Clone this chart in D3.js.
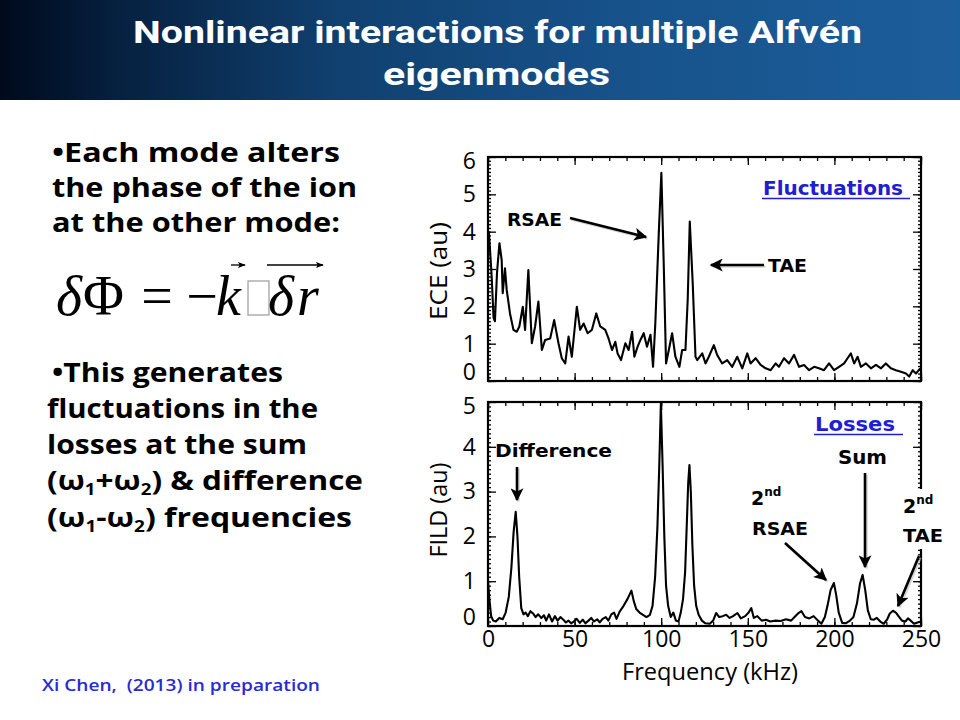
<!DOCTYPE html>
<html><head><meta charset="utf-8">
<script src="https://cdn.jsdelivr.net/npm/d3@7"></script>
<style>body{margin:0;background:#fff;} svg{display:block;}</style>
</head><body>
<svg id="c" width="960" height="720"></svg>
<script>
// ---- Data ----
const xTicks = [0, 50, 100, 150, 200, 250];
const eceTicks = [0, 1, 2, 3, 4, 5, 6];
const fildTicks = [0, 1, 2, 3, 4, 5];

const eceFreq = [0.5,2.0,3.2,4.0,5.2,6.6,7.9,8.5,9.8,10.8,12.7,14.7,16.6,18.1,20.1,21.4,23.3,25.3,27.2,29.1,31.1,33.0,35.9,38.2,40.7,42.6,44.6,46.5,48.4,51.3,53.2,55.2,57.5,60.0,62.5,64.8,67.7,69.6,71.6,73.5,74.8,76.8,79.3,81.2,83.2,84.5,86.4,88.0,89.9,91.8,93.8,95.3,96.6,98.6,100.1,101.5,102.8,104.4,106.3,108.2,110.5,112.1,114.0,115.3,116.5,118.2,119.8,120.8,123.7,125.6,127.5,130.4,132.3,135.2,138.1,141.0,143.9,146.8,149.7,151.6,154.5,157.4,160.3,163.2,166.1,168.0,170.9,173.8,176.7,179.6,182.5,185.4,188.3,191.1,194.0,196.9,199.8,202.7,205.6,207.6,209.5,211.4,213.4,215.3,218.2,221.1,224.0,226.9,229.7,232.6,235.5,238.4,241.3,243.2,245.2,247.1,249.6];
const eceVals = [4.0,2.9,1.7,1.6,2.9,3.69,3.24,2.35,3.02,2.44,1.81,1.37,1.32,1.46,1.99,1.37,2.97,1.01,1.46,2.13,0.83,1.1,1.14,1.63,1.01,0.61,0.47,1.19,0.65,1.99,1.37,1.54,1.28,1.37,1.81,1.46,1.37,1.14,0.83,1.05,0.74,0.56,1.01,0.83,1.32,0.65,0.92,1.1,1.28,0.92,1.24,0.38,1.54,3.96,5.58,3.06,0.47,0.83,1.28,0.65,0.38,0.83,0.83,2.17,4.27,2.62,0.65,0.56,0.74,0.47,0.65,0.96,0.7,0.47,0.56,0.38,0.65,0.34,0.74,0.47,0.61,0.43,0.34,0.29,0.47,0.38,0.61,0.47,0.7,0.38,0.43,0.29,0.38,0.34,0.29,0.47,0.29,0.38,0.47,0.61,0.74,0.47,0.65,0.38,0.47,0.34,0.43,0.34,0.47,0.34,0.29,0.25,0.2,0.12,0.29,0.2,0.34];

const fildFreq = [0,0.8,1.8,3.0,4.5,6.5,8.5,10.2,12.0,13.5,14.8,16.0,17.0,18.0,19.2,20.5,21.7,23.0,24.5,26.0,27.5,29.0,30.8,32.3,33.6,35.2,37.0,38.6,40.2,41.8,43.5,45.0,46.5,48.0,49.5,51.2,53.0,54.7,56.3,58.0,59.6,61.2,63.0,64.5,66.2,68.0,69.5,71.2,72.8,74.2,76.0,78.3,80.5,82.8,84.2,85.6,87.5,89.5,91.5,93.5,95.0,96.5,97.8,98.9,99.8,100.8,101.8,102.8,104.0,105.5,107.0,108.5,110.0,111.3,112.6,113.8,114.8,115.6,116.3,117.1,118.0,119.0,120.2,121.6,123.5,125.5,128.0,130.0,131.7,133.5,135.5,137.5,139.5,141.5,144.0,146.0,148.5,150.5,152.0,153.5,155.5,158.0,160.5,163.0,166.0,169.0,172.0,175.0,177.0,179.0,181.0,183.0,185.5,188.0,190.5,192.5,194.5,196.0,197.8,199.7,201.0,202.5,204.5,206.5,209.0,211.0,213.0,214.8,216.3,217.8,219.3,221.0,222.8,224.5,226.5,228.5,230.5,232.0,233.8,235.5,237.0,239.0,241.0,242.5,244.0,246.0,248.0,250.0];
const fildVals = [1.0,0.6,0.22,0.12,0.1,0.18,0.15,0.3,0.65,1.3,2.1,2.55,2.0,1.1,0.4,0.26,0.3,0.22,0.33,0.28,0.2,0.26,0.18,0.24,0.12,0.26,0.1,0.22,0.12,0.2,0.14,0.08,0.12,0.06,0.1,0.16,0.07,0.14,0.06,0.12,0.18,0.1,0.15,0.08,0.16,0.2,0.12,0.26,0.3,0.16,0.32,0.45,0.6,0.79,0.55,0.38,0.3,0.25,0.2,0.25,0.45,1.1,2.2,3.6,4.96,3.6,2.0,0.9,0.45,0.2,0.3,0.12,0.1,0.3,0.6,1.2,2.3,3.2,3.59,3.0,1.8,0.9,0.45,0.25,0.12,0.06,0.05,0.12,0.29,0.2,0.22,0.25,0.18,0.22,0.29,0.17,0.22,0.3,0.4,0.18,0.22,0.12,0.14,0.1,0.12,0.11,0.15,0.12,0.2,0.28,0.33,0.2,0.17,0.22,0.12,0.05,0.2,0.45,0.8,0.96,0.7,0.3,0.07,0.06,0.12,0.2,0.5,0.95,1.14,0.8,0.35,0.15,0.14,0.18,0.1,0.05,0.15,0.28,0.34,0.3,0.22,0.12,0.1,0.17,0.12,0.05,0.08,0.1];

// ---- Drawing ----
const svg = d3.select("#c");
const defs = svg.append("defs");
const grad = defs.append("linearGradient").attr("id", "tg")
  .attr("x1", "0").attr("x2", "1").attr("y1", "0").attr("y2", "0");
[[0, "#000a1c"], [0.12, "#06203f"], [0.35, "#10406f"], [0.65, "#17528b"], [1, "#1c5e9b"]]
  .forEach(([o, c]) => grad.append("stop").attr("offset", o).attr("stop-color", c));

defs.append("marker").attr("id", "ah").attr("viewBox", "0 0 10 10")
  .attr("refX", 9).attr("refY", 5).attr("markerWidth", 5).attr("markerHeight", 5)
  .attr("orient", "auto-start-reverse")
  .append("path").attr("d", "M0,0 L10,5 L0,10 L2.5,5 Z").attr("fill", "#000");
defs.append("marker").attr("id", "ahs").attr("viewBox", "0 0 10 10")
  .attr("refX", 9).attr("refY", 5).attr("markerWidth", 6).attr("markerHeight", 6)
  .attr("orient", "auto")
  .append("path").attr("d", "M0,1 L10,5 L0,9 L2,5 Z").attr("fill", "#000");

// Title bar
svg.append("rect").attr("x", 0).attr("y", 0).attr("width", 960).attr("height", 100).attr("fill", "url(#tg)");
const titleFont = "Roboto, 'Open Sans', sans-serif";
svg.append("text").attr("x", 133).attr("y", 43).attr("textLength", 729).attr("lengthAdjust", "spacingAndGlyphs")
  .attr("font-family", titleFont).attr("font-weight", "bold").attr("font-size", 32).attr("fill", "#fff")
  .text("Nonlinear interactions for multiple Alfvén");
svg.append("text").attr("x", 383).attr("y", 85).attr("textLength", 227).attr("lengthAdjust", "spacingAndGlyphs")
  .attr("font-family", titleFont).attr("font-weight", "bold").attr("font-size", 32).attr("fill", "#fff")
  .text("eigenmodes");

// Left bullet text
const bodyFont = "'Open Sans', 'DejaVu Sans', sans-serif";
function bodyLine(x, y, len, build) {
  const t = svg.append("text").attr("x", x).attr("y", y)
    .attr("font-family", bodyFont).attr("font-weight", "bold").attr("font-size", 27).attr("fill", "#000")
    .attr("textLength", len).attr("lengthAdjust", "spacingAndGlyphs");
  build(t);
}
bodyLine(52, 162, 288, t => t.text("•Each mode alters"));
bodyLine(52, 197, 305, t => t.text("the phase of the ion"));
bodyLine(52, 232, 288, t => t.text("at the other mode:"));
bodyLine(52, 382, 231, t => t.text("•This generates"));
bodyLine(47, 418, 271, t => t.text("fluctuations in the"));
bodyLine(47, 454, 260, t => t.text("losses at the sum"));
bodyLine(47, 490, 316, t => {
  t.append("tspan").text("(ω");
  t.append("tspan").attr("font-size", 16).attr("dy", 5).text("1");
  t.append("tspan").attr("dy", -5).text("+ω");
  t.append("tspan").attr("font-size", 16).attr("dy", 5).text("2");
  t.append("tspan").attr("dy", -5).text(") & difference");
});
bodyLine(47, 527, 305, t => {
  t.append("tspan").text("(ω");
  t.append("tspan").attr("font-size", 16).attr("dy", 5).text("1");
  t.append("tspan").attr("dy", -5).text("-ω");
  t.append("tspan").attr("font-size", 16).attr("dy", 5).text("2");
  t.append("tspan").attr("dy", -5).text(") frequencies");
});

// Formula
const ff = "'Liberation Serif', 'DejaVu Serif', serif";
const fsz = 56;
function ftxt(x, y, s, italic, anchor) {
  return svg.append("text").attr("x", x).attr("y", y).attr("font-family", ff).attr("font-size", fsz)
    .attr("font-style", italic ? "italic" : "normal").attr("text-anchor", anchor || "start").text(s);
}
const dphi = svg.append("text").attr("x", 56).attr("y", 315).attr("font-family", ff).attr("font-size", fsz);
dphi.append("tspan").attr("font-style", "italic").text("δ");
dphi.append("tspan").attr("dx", 1).text("Φ");
ftxt(157, 315, "=", false, "middle");
ftxt(202, 315, "−", false, "middle");
ftxt(216, 315, "k", true);
svg.append("rect").attr("x", 248).attr("y", 281).attr("width", 21).attr("height", 34)
  .attr("fill", "none").attr("stroke", "#9a9a9a").attr("stroke-width", 1.2);
ftxt(268, 315, "δ", true);
ftxt(297, 315, "r", true);
svg.append("line").attr("x1", 231).attr("y1", 265).attr("x2", 245).attr("y2", 265)
  .attr("stroke", "#000").attr("stroke-width", 1.3).attr("marker-end", "url(#ahs)");
svg.append("line").attr("x1", 267).attr("y1", 265).attr("x2", 323).attr("y2", 265)
  .attr("stroke", "#000").attr("stroke-width", 1.3).attr("marker-end", "url(#ahs)");

// Footnote
svg.append("text").attr("x", 42).attr("y", 691).attr("font-family", bodyFont).attr("font-weight", 600)
  .attr("font-size", 17).attr("fill", "#2a2ad2").attr("textLength", 278).attr("lengthAdjust", "spacingAndGlyphs")
  .attr("xml:space", "preserve").text("Xi Chen,  (2013) in preparation");

// Charts
const axFont = "'Open Sans', 'DejaVu Sans', sans-serif";
const x = d3.scaleLinear().domain([0, 250]).range([488, 921]);
const yTop = d3.scaleLinear().domain([0, 6]).range([381, 157]);
const yBot = d3.scaleLinear().domain([0, 5]).range([626, 402]);

function panel(id, y, yTicks, freq, vals, showX) {
  const g = svg.append("g");
  const [xl, xr] = x.range();
  const [yb, yt] = y.range();
  const ymax = y.domain()[1];
  defs.append("clipPath").attr("id", "clip" + id).append("rect")
    .attr("x", xl).attr("y", yt).attr("width", xr - xl).attr("height", yb - yt);
  const line = d3.line().x(d => x(d[0])).y(d => y(d[1]));
  g.append("path").datum(d3.zip(freq, vals)).attr("d", line)
    .attr("fill", "none").attr("stroke", "#000").attr("stroke-width", 2.1).attr("stroke-linejoin", "round")
    .attr("clip-path", `url(#clip${id})`);

  const tickStyle = sel => { sel.select(".domain").remove(); sel.selectAll("line").attr("stroke", "#000").attr("stroke-width", 1.3); };
  const minorX = d3.range(0, 251, 10), minorY = d3.range(0, ymax + 0.001, 0.1);
  g.append("g").attr("transform", `translate(0,${yb})`).call(d3.axisBottom(x).tickValues(minorX).tickSize(-4).tickFormat("")).call(tickStyle);
  g.append("g").attr("transform", `translate(0,${yb})`).call(d3.axisBottom(x).tickValues(xTicks).tickSize(-8).tickFormat("")).call(tickStyle);
  g.append("g").attr("transform", `translate(0,${yt})`).call(d3.axisTop(x).tickValues(minorX).tickSize(-4).tickFormat("")).call(tickStyle);
  g.append("g").attr("transform", `translate(0,${yt})`).call(d3.axisTop(x).tickValues(xTicks).tickSize(-8).tickFormat("")).call(tickStyle);
  g.append("g").attr("transform", `translate(${xl},0)`).call(d3.axisLeft(y).tickValues(minorY).tickSize(-3).tickFormat("")).call(tickStyle);
  g.append("g").attr("transform", `translate(${xl},0)`).call(d3.axisLeft(y).tickValues(yTicks).tickSize(-8).tickFormat("")).call(tickStyle);
  g.append("g").attr("transform", `translate(${xr},0)`).call(d3.axisRight(y).tickValues(minorY).tickSize(-3).tickFormat("")).call(tickStyle);
  g.append("g").attr("transform", `translate(${xr},0)`).call(d3.axisRight(y).tickValues(yTicks).tickSize(-8).tickFormat("")).call(tickStyle);

  g.append("rect").attr("x", xl).attr("y", yt).attr("width", xr - xl).attr("height", yb - yt)
    .attr("fill", "none").attr("stroke", "#000").attr("stroke-width", 2.2);

  // y labels (end labels nudged inward, as in the reference)
  const lo = yTicks[0], hi = yTicks[yTicks.length - 1];
  g.append("g").attr("transform", `translate(${xl},0)`)
    .call(d3.axisLeft(y).tickValues(yTicks).tickSize(0).tickPadding(12).tickFormat(d3.format("d")))
    .call(s => {
      s.select(".domain").remove();
      s.selectAll("text").attr("font-family", axFont).attr("font-size", 23).attr("fill", "#000")
        .attr("dy", d => d === lo ? "-0.05em" : d === hi ? "0.5em" : "0.32em");
    });
  if (showX) {
    g.append("g").attr("transform", `translate(0,${yb})`)
      .call(d3.axisBottom(x).tickValues(xTicks).tickSize(0).tickPadding(5).tickFormat(d3.format("d")))
      .call(s => { s.select(".domain").remove(); s.selectAll("text").attr("font-family", axFont).attr("font-size", 23).attr("fill", "#000"); });
  }
  return g;
}

panel("t", yTop, eceTicks, eceFreq, eceVals, false);
panel("b", yBot, fildTicks, fildFreq, fildVals, true);

// axis titles
function rotTitle(cx, cy, s, len) {
  svg.append("text").attr("transform", `translate(${cx},${cy}) rotate(-90)`).attr("text-anchor", "middle")
    .attr("dy", "0.35em").attr("font-family", axFont).attr("font-size", 23).attr("fill", "#000")
    .attr("textLength", len).attr("lengthAdjust", "spacingAndGlyphs").text(s);
}
rotTitle(439, 271, "ECE (au)", 98);
rotTitle(439, 510, "FILD (au)", 95);
svg.append("text").attr("x", 710).attr("y", 680).attr("text-anchor", "middle").attr("font-family", axFont)
  .attr("font-size", 23).attr("fill", "#000").attr("textLength", 176).attr("lengthAdjust", "spacingAndGlyphs")
  .text("Frequency (kHz)");

// annotations
const annFont = "'DejaVu Sans', 'Open Sans', sans-serif";
function ann(xp, yp, s, size, len, color) {
  const t = svg.append("text").attr("x", xp).attr("y", yp).attr("font-family", annFont).attr("font-weight", "bold")
    .attr("font-size", size).attr("fill", color || "#000");
  if (len) t.attr("textLength", len).attr("lengthAdjust", "spacingAndGlyphs");
  t.text(s);
  return t;
}
function arrow(x1, y1, x2, y2) {
  svg.append("line").attr("x1", x1 + 1.5).attr("y1", y1 + 1.5).attr("x2", x2 + 1.5).attr("y2", y2 + 1.5)
    .attr("stroke", "#bbb").attr("stroke-width", 2.6).attr("opacity", 0.6);
  svg.append("line").attr("x1", x1).attr("y1", y1).attr("x2", x2).attr("y2", y2)
    .attr("stroke", "#000").attr("stroke-width", 2.6).attr("marker-end", "url(#ah)");
}
ann(507, 226, "RSAE", 18.5, 55);
arrow(570, 218, 646, 237);
ann(768, 272, "TAE", 18.5, 39);
arrow(764, 265, 711, 265);
ann(763, 195, "Fluctuations", 19.5, 140, "#1e1ed2");
svg.append("line").attr("x1", 762).attr("x2", 910).attr("y1", 198.5).attr("y2", 198.5).attr("stroke", "#1e1ed2").attr("stroke-width", 1.6);
ann(815, 431, "Losses", 20, 80, "#1e1ed2");
svg.append("line").attr("x1", 814).attr("x2", 903).attr("y1", 434.5).attr("y2", 434.5).attr("stroke", "#1e1ed2").attr("stroke-width", 1.6);
ann(495, 457, "Difference", 18.5, 117);
arrow(517, 467, 517, 500);
ann(838, 464, "Sum", 19.5, 49);
arrow(865, 473, 865, 567);
const t2r = ann(751, 505, "2", 19);
t2r.append("tspan").attr("font-size", 12).attr("dy", -9).text("nd");
ann(752, 535, "RSAE", 18.5, 56);
arrow(785, 543, 826, 580);
svg.append("rect").attr("x", 900).attr("y", 489).attr("width", 50).attr("height", 60).attr("fill", "#fff");
const t2t = ann(903, 513, "2", 19);
t2t.append("tspan").attr("font-size", 12).attr("dy", -9).text("nd");
ann(903, 542, "TAE", 18.5, 40);
arrow(919, 556, 898, 606);
</script>
</body></html>
